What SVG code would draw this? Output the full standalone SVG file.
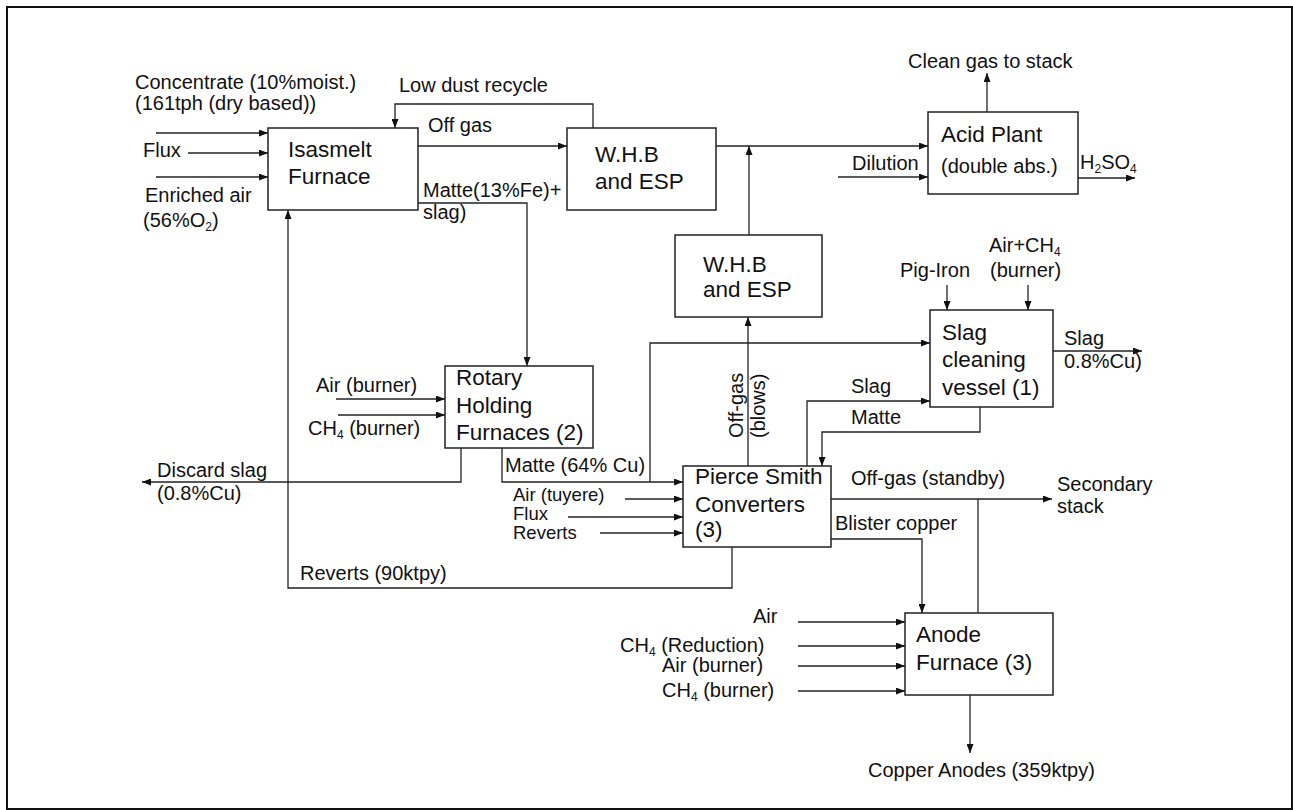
<svg xmlns="http://www.w3.org/2000/svg" width="1293" height="810" viewBox="0 0 1293 810">
<defs>
<marker id="ah" markerUnits="userSpaceOnUse" markerWidth="9" markerHeight="7" refX="9" refY="3.5" orient="auto">
<path d="M0,0 L9,3.5 L0,7 z" fill="#111"/>
</marker>
<style>
.box{fill:#fff;stroke:#222;stroke-width:1.5}
.c{fill:none;stroke:#222;stroke-width:1.3}
.a{marker-end:url(#ah)}
text{font-family:"Liberation Sans",Arial,sans-serif;fill:#111}
.t{font-size:22.5px}
.l{font-size:20px}
.m{font-size:18.5px}
.s{font-size:12px}
</style>
</defs>
<rect x="0" y="0" width="1293" height="810" fill="#fff"/>
<rect x="7" y="7" width="1285" height="802" fill="none" stroke="#111" stroke-width="2"/>

<g id="connectors">
<path class="c a" d="M156,133 H268"/>
<path class="c a" d="M188,153 H268"/>
<path class="c a" d="M156,177 H268"/>
<path class="c a" d="M593,128 V104 H395 V128"/>
<path class="c a" d="M418,146 H567"/>
<path class="c a" d="M418,203 H527 V366"/>
<path class="c a" d="M716,146 H928"/>
<path class="c a" d="M749,235 V146"/>
<path class="c a" d="M838,177 H928"/>
<path class="c a" d="M987,112 V73"/>
<path class="c a" d="M1078,178 H1135"/>
<path class="c a" d="M336,399 H445"/>
<path class="c a" d="M338,415 H445"/>
<path class="c a" d="M461,448 V482 H142"/>
<path class="c a" d="M502,448 V482 H683"/>
<path class="c a" d="M650,482 V343 H930"/>
<path class="c a" d="M625,499 H683"/>
<path class="c a" d="M568,517 H683"/>
<path class="c a" d="M600,533 H683"/>
<path class="c a" d="M748,466 V317"/>
<path class="c a" d="M732,547 V588 H288 V210"/>
<path class="c a" d="M947,285 V310"/>
<path class="c a" d="M1028,285 V310"/>
<path class="c a" d="M1053,351 H1142"/>
<path class="c a" d="M807,466 V401 H930"/>
<path class="c a" d="M980,407 V432 H822 V466"/>
<path class="c a" d="M831,499 H1052"/>
<path class="c" d="M978,613 V499"/>
<path class="c a" d="M831,539 H922 V613"/>
<path class="c a" d="M798,622 H905"/>
<path class="c a" d="M798,646 H905"/>
<path class="c a" d="M798,666 H905"/>
<path class="c a" d="M798,691 H905"/>
<path class="c a" d="M970,695 V753"/>
</g>

<g id="isasmelt">
<rect class="box" x="268" y="128" width="150" height="82"/>
<text class="t" x="288" y="157">Isasmelt</text>
<text class="t" x="288" y="184">Furnace</text>
</g>
<g id="whb1">
<rect class="box" x="567" y="128" width="149" height="82"/>
<text class="t" x="595" y="162">W.H.B</text>
<text class="t" x="595" y="189">and ESP</text>
</g>
<g id="acid-plant">
<rect class="box" x="928" y="112" width="150" height="82"/>
<text class="t" x="941" y="142">Acid Plant</text>
<text class="l" x="941" y="173">(double abs.)</text>
</g>
<g id="whb2">
<rect class="box" x="675" y="235" width="147" height="82"/>
<text class="t" x="703" y="272">W.H.B</text>
<text class="t" x="703" y="297">and ESP</text>
</g>
<g id="slag-cleaning">
<rect class="box" x="930" y="310" width="123" height="97"/>
<text class="t" x="942" y="340">Slag</text>
<text class="t" x="942" y="367">cleaning</text>
<text class="t" x="942" y="395">vessel (1)</text>
</g>
<g id="rotary">
<rect class="box" x="445" y="366" width="148" height="82"/>
<text class="t" x="456" y="385">Rotary</text>
<text class="t" x="456" y="413">Holding</text>
<text class="t" x="456" y="440">Furnaces (2)</text>
</g>
<g id="pierce-smith">
<rect class="box" x="683" y="466" width="148" height="81"/>
<text class="t" x="695" y="484">Pierce Smith</text>
<text class="t" x="695" y="512">Converters</text>
<text class="t" x="695" y="537">(3)</text>
</g>
<g id="anode">
<rect class="box" x="905" y="613" width="148" height="82"/>
<text class="t" x="916" y="642">Anode</text>
<text class="t" x="916" y="670">Furnace (3)</text>
</g>

<g id="labels">
<text class="l" x="135" y="89">Concentrate (10%moist.)</text>
<text class="l" x="135" y="110">(161tph (dry based))</text>
<text class="l" x="143" y="157">Flux</text>
<text class="l" x="145" y="202">Enriched air</text>
<text class="l" x="143" y="227">(56%O<tspan class="s" dy="4">2</tspan><tspan dy="-4">)</tspan></text>
<text class="l" x="399" y="92">Low dust recycle</text>
<text class="l" x="428" y="132">Off gas</text>
<text class="l" x="423" y="197">Matte(13%Fe)+</text>
<text class="l" x="423" y="219">slag)</text>
<text class="l" x="908" y="68">Clean gas to stack</text>
<text class="l" x="852" y="170">Dilution</text>
<text class="l" x="1080" y="169">H<tspan class="s" dy="4">2</tspan><tspan dy="-4">SO</tspan><tspan class="s" dy="4">4</tspan></text>
<text class="l" x="900" y="277">Pig-Iron</text>
<text class="l" x="989" y="252">Air+CH<tspan class="s" dy="4">4</tspan></text>
<text class="l" x="990" y="277">(burner)</text>
<text class="l" x="1064" y="345">Slag</text>
<text class="l" x="1064" y="368">0.8%Cu)</text>
<text class="l" x="851" y="393">Slag</text>
<text class="l" x="851" y="424">Matte</text>
<text class="l" transform="translate(743,438) rotate(-90)">Off-gas</text>
<text class="l" transform="translate(765,438) rotate(-90)">(blows)</text>
<text class="l" x="316" y="392">Air (burner)</text>
<text class="l" x="308" y="435">CH<tspan class="s" dy="4">4</tspan><tspan dy="-4"> (burner)</tspan></text>
<text class="l" x="157" y="477">Discard slag</text>
<text class="l" x="157" y="500">(0.8%Cu)</text>
<text class="l" x="505" y="472">Matte (64% Cu)</text>
<text class="m" x="513" y="501">Air (tuyere)</text>
<text class="m" x="513" y="520">Flux</text>
<text class="m" x="513" y="539">Reverts</text>
<text class="l" x="300" y="580">Reverts (90ktpy)</text>
<text class="l" x="851" y="485">Off-gas (standby)</text>
<text class="l" x="1057" y="491">Secondary</text>
<text class="l" x="1057" y="513">stack</text>
<text class="l" x="835" y="530">Blister copper</text>
<text class="l" x="753" y="623">Air</text>
<text class="l" x="620" y="652">CH<tspan class="s" dy="4">4</tspan><tspan dy="-4"> (Reduction)</tspan></text>
<text class="l" x="662" y="672">Air (burner)</text>
<text class="l" x="662" y="697">CH<tspan class="s" dy="4">4</tspan><tspan dy="-4"> (burner)</tspan></text>
<text class="l" x="868" y="777">Copper Anodes (359ktpy)</text>
</g>
</svg>
